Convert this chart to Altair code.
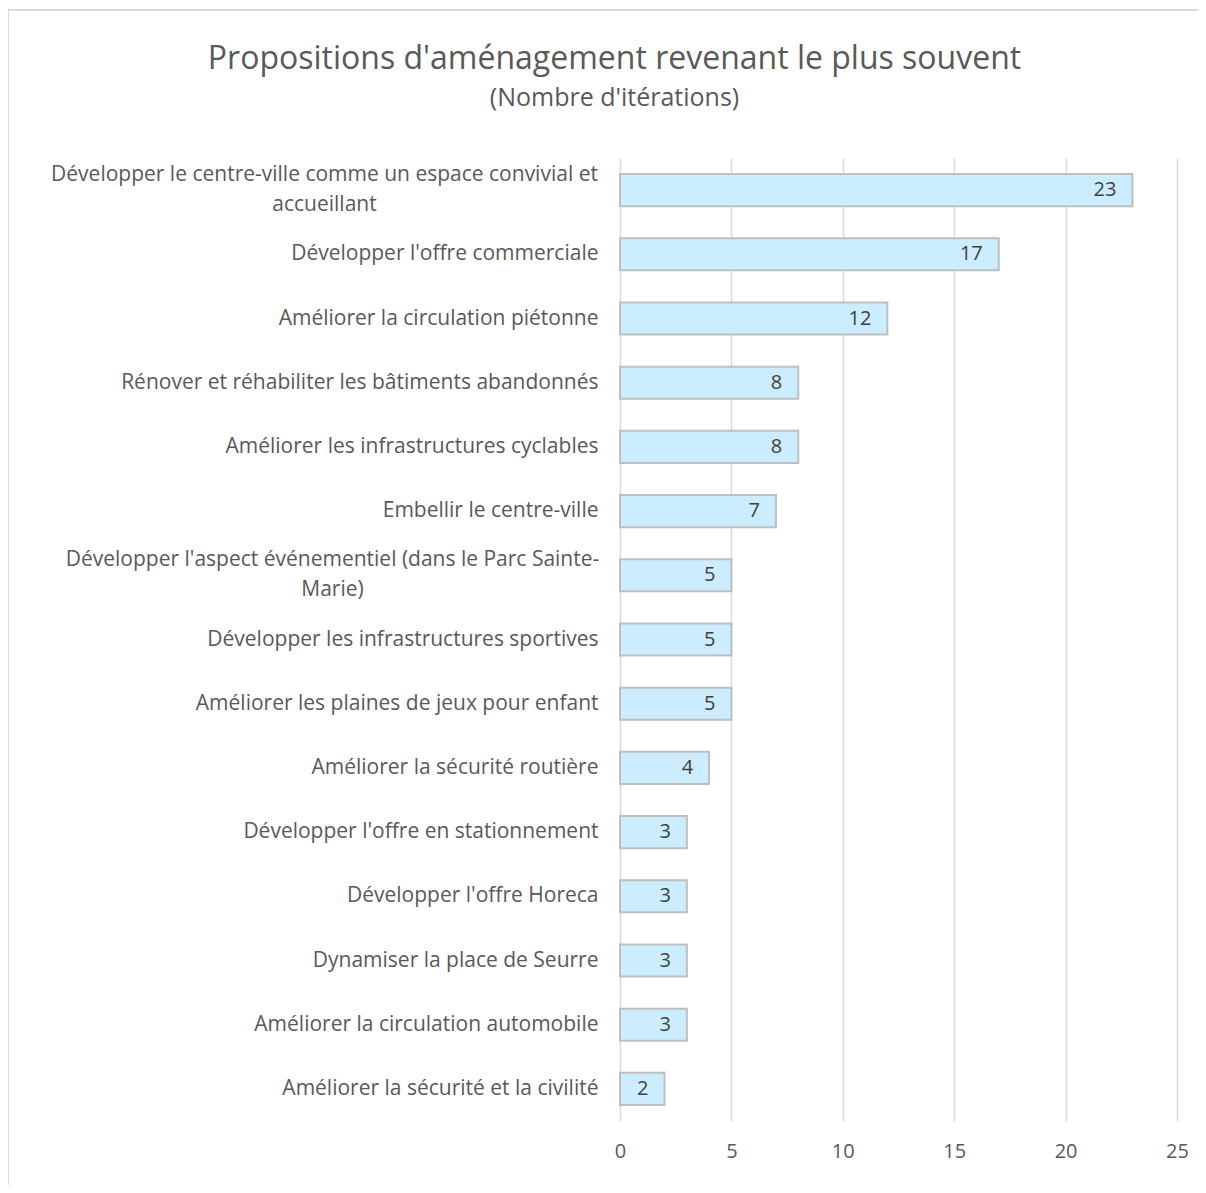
import json
import altair as alt
import pandas as pd

categories = [
    "Développer le centre-ville comme un espace convivial et accueillant",
    "Développer l'offre commerciale",
    "Améliorer la circulation piétonne",
    "Rénover et réhabiliter les bâtiments abandonnés",
    "Améliorer les infrastructures cyclables",
    "Embellir le centre-ville",
    "Développer l'aspect événementiel (dans le Parc Sainte-Marie)",
    "Développer les infrastructures sportives",
    "Améliorer les plaines de jeux pour enfant",
    "Améliorer la sécurité routière",
    "Développer l'offre en stationnement",
    "Développer l'offre Horeca",
    "Dynamiser la place de Seurre",
    "Améliorer la circulation automobile",
    "Améliorer la sécurité et la civilité",
]
values = [23, 17, 12, 8, 8, 7, 5, 5, 5, 4, 3, 3, 3, 3, 2]
x_ticks = [0, 5, 10, 15, 20, 25]

wrapped_lines = {
    categories[0]: ["Développer le centre-ville comme un espace convivial et", "accueillant"],
    categories[6]: ["Développer l'aspect événementiel (dans le Parc Sainte-", "Marie)"],
}
wrapped_pad = {categories[0]: 296, categories[6]: 288}

FONT = "Open Sans"
GREY = "#595959"

df = pd.DataFrame({"cat": categories, "val": values})

label_expr = "datum.label"
for k, lines in wrapped_lines.items():
    label_expr = f"datum.label == {json.dumps(k)} ? {json.dumps(lines)} : ({label_expr})"

align_cond = {
    "condition": [{"test": f"datum.value == {json.dumps(k)}", "value": "center"} for k in wrapped_lines],
    "value": "right",
}
pad_cond = {
    "condition": [{"test": f"datum.value == {json.dumps(k)}", "value": v} for k, v in wrapped_pad.items()],
    "value": 22,
}
offset_cond = {
    "condition": [{"test": f"datum.value == {json.dumps(k)}", "value": -15} for k in wrapped_lines],
    "value": 0,
}

y_enc = alt.Y(
    "cat:N",
    sort=categories,
    title=None,
    scale=alt.Scale(paddingInner=0.5, paddingOuter=0.25),
    axis=alt.Axis(
        domain=False,
        ticks=False,
        tickSize=0,
        grid=False,
        labelFont=FONT,
        labelFontSize=21,
        labelColor=GREY,
        labelLimit=700,
        labelLineHeight=30,
        labelExpr=label_expr,
        labelAlign=align_cond,
        labelPadding=pad_cond,
        labelOffset=offset_cond,
    ),
)
x_enc = alt.X(
    "val:Q",
    title=None,
    scale=alt.Scale(domain=[0, 25], nice=False),
    axis=alt.Axis(
        values=x_ticks,
        domain=False,
        ticks=False,
        grid=True,
        gridColor="#D9D9D9",
        gridWidth=1.5,
        labelFont=FONT,
        labelFontSize=20,
        labelColor=GREY,
        labelPadding=20,
        labelFlush=False,
    ),
)

base = alt.Chart(df)
bars = base.mark_bar(fill="#CCECFF", stroke="#BFBFBF", strokeWidth=2).encode(x=x_enc, y=y_enc)
labels = base.mark_text(
    align="right", baseline="middle", dx=-16, font=FONT, fontSize=20, color="#404040"
).encode(x="val:Q", y=alt.Y("cat:N", sort=categories), text="val:Q")

frame_df = pd.DataFrame({"k": [0]})
top_line = alt.Chart(frame_df).mark_rule(color="#D9D9D9", strokeWidth=2).encode(
    x=alt.value(-612), x2=alt.value(600), y=alt.value(-148)
)
left_line = alt.Chart(frame_df).mark_rule(color="#D9D9D9", strokeWidth=2).encode(
    x=alt.value(-612), y=alt.value(-148), y2=alt.value(1100)
)

chart = alt.layer(top_line, left_line, bars, labels).properties(
    width=557,
    height=963,
    padding={"left": 612, "top": 150, "right": 21, "bottom": 64},
    autosize=alt.AutoSizeParams(type="none"),
    title=alt.TitleParams(
        text="Propositions d'aménagement revenant le plus souvent",
        subtitle="(Nombre d'itérations)",
        font=FONT,
        fontSize=32,
        fontWeight="normal",
        color=GREY,
        subtitleFont=FONT,
        subtitleFontSize=25,
        subtitleColor=GREY,
        subtitlePadding=10,
        anchor="middle",
        frame="group",
        dx=-284,
        offset=-103,
    ),
).configure_view(stroke=None)

chart.save("out.html", embed_options={"renderer": "svg", "actions": False})
